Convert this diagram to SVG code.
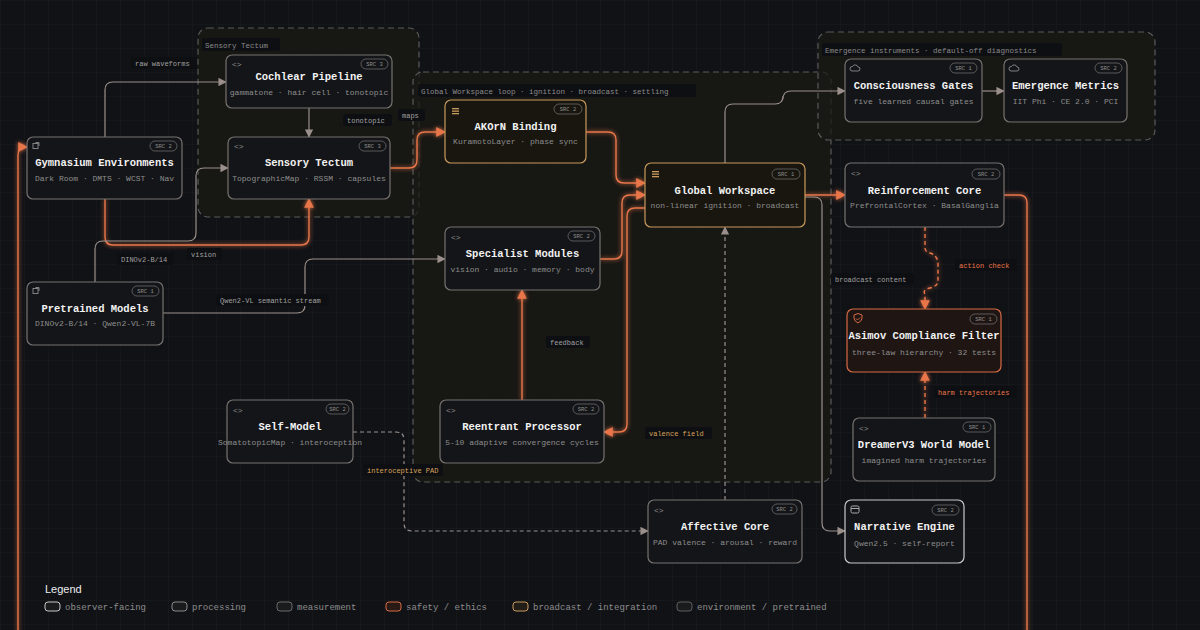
<svg xmlns="http://www.w3.org/2000/svg" width="1200" height="630" viewBox="0 0 1200 630">
<defs>
<pattern id="grid" width="24" height="24" patternUnits="userSpaceOnUse"><path d="M24 0H0V24" fill="none" stroke="#1a1b20" stroke-width="1"/></pattern>
<marker id="ag" viewBox="0 0 10 10" refX="9" refY="5" markerWidth="7" markerHeight="7" orient="auto-start-reverse"><path d="M0 0L10 5L0 10z" fill="#9a8f8a"/></marker>
<marker id="ao" viewBox="0 0 10 10" refX="9" refY="5" markerWidth="7" markerHeight="7" orient="auto-start-reverse"><path d="M0 0L10 5L0 10z" fill="#e8764a"/></marker>
<filter id="glow" filterUnits="userSpaceOnUse" x="0" y="0" width="1200" height="630"><feGaussianBlur stdDeviation="2" result="b"/><feMerge><feMergeNode in="b"/><feMergeNode in="SourceGraphic"/></feMerge></filter>
</defs>
<style>
text{font-family:"Liberation Mono","DejaVu Sans Mono",monospace}
.n{fill:#141518;stroke:#77726f;stroke-width:1.2}
.gold{stroke:#c99a5c;fill:#18160f}
.red{fill:#1f1614;stroke:#d86a45}
.wht{stroke:#c8c8c8}
.t{fill:#f2f2f2;font-size:10.5px;font-weight:bold;text-anchor:middle}
.s{fill:#8d8d8d;font-size:8px;text-anchor:middle}
.b{fill:none;stroke:#6b6b6b;stroke-width:0.8}
.bt{fill:#8d8d8d;font-size:5.5px;text-anchor:middle}
.ic{fill:#8d8d8d;font-size:8px}
.g{fill:#1a1914;fill-opacity:0.75;stroke:#5a5a5a;stroke-dasharray:6 4;stroke-width:1.2}
.gl{fill:#8a8a8a;font-size:7.5px}
.lb{fill:#0e0f12}
.lt{fill:#a0a0a0;font-size:7px}
.cg{fill:none;stroke:#9a8f8a;stroke-width:1.2}
.co{fill:none;stroke:#e8764a;stroke-width:1.4}
.dash{stroke-dasharray:4 3}
.lg{fill:#8d8d8d;font-size:9px}
.icl{fill:none;stroke:#8d8d8d;stroke-width:0.9}
</style>
<rect width="1200" height="630" fill="#111216"/>
<rect width="1200" height="630" fill="url(#grid)"/>

<g id="groups">
<rect class="g" x="198" y="28" width="221" height="189" rx="10"/>
<rect class="lb" x="202" y="38" width="78" height="13" rx="2"/><text class="gl" x="205" y="47.5">Sensory Tectum</text>
<rect class="g" x="413" y="72" width="418" height="410" rx="10"/>
<rect class="lb" x="418" y="84" width="278" height="13" rx="2"/><text class="gl" x="421" y="93.5">Global Workspace loop · ignition · broadcast · settling</text>
<rect class="g" x="818" y="32" width="337" height="108" rx="10"/>
<rect class="lb" x="822" y="43" width="240" height="13" rx="2"/><text class="gl" x="825" y="53">Emergence instruments · default-off diagnostics</text>
</g>

<g id="connectors">
<path class="cg" d="M105 137V90q0-8 8-8H226" marker-end="url(#ag)"/>
<path class="cg" d="M309 108V137" marker-end="url(#ag)"/>
<path class="co" filter="url(#glow)" d="M105 199V237q0 8 8 8H301q8 0 8-8V199" marker-end="url(#ao)"/>
<path class="cg" d="M95 282V249q0-8 8-8H188q8 0 8-8V176q0-8 8-8H228" marker-end="url(#ag)"/>
<path class="cg" d="M163 313H297q8 0 8-8V267q0-8 8-8H445" marker-end="url(#ag)"/>
<path class="co" filter="url(#glow)" d="M390 168H409q8 0 8-8V140q0-8 8-8H445" marker-end="url(#ao)"/>
<path class="co" filter="url(#glow)" d="M586 132H608q8 0 8 8V175q0 8 8 8H645" marker-end="url(#ao)"/>
<path class="co" filter="url(#glow)" d="M600 259H614q8 0 8-8V203q0-8 8-8H645" marker-end="url(#ao)"/>
<path class="co" filter="url(#glow)" d="M645 208H635q-8 0-8 8V424q0 8-8 8H604" marker-end="url(#ao)"/>
<path class="co" filter="url(#glow)" d="M522 400V290" marker-end="url(#ao)"/>
<path class="cg dash" d="M725 500V227" marker-end="url(#ag)"/>
<path class="cg dash" d="M353 432H396q8 0 8 8V523q0 8 8 8H648" marker-end="url(#ag)"/>
<path class="cg" d="M725 163V112q0-8 8-8H775q8 0 8-8V99q0-8 8-8H845" marker-end="url(#ag)"/>
<path class="cg" d="M982 91H1004" marker-end="url(#ag)"/>
<path class="co" filter="url(#glow)" d="M805 195H845" marker-end="url(#ao)"/>
<path class="cg" d="M805 197H814q8 0 8 8V523q0 8 8 8H845" marker-end="url(#ag)"/>
<path class="co dash" filter="url(#glow)" d="M925 227V248q0 4 5 5t8 8V281q0 5-8 7t-5 6V309" marker-end="url(#ao)"/>
<path class="co dash" filter="url(#glow)" d="M925 418V372" marker-end="url(#ao)"/>
<path class="co" filter="url(#glow)" d="M1004 195H1019q8 0 8 8V640"/>
<path class="co" filter="url(#glow)" d="M18 640V155q0-8 8-8H27" marker-end="url(#ao)"/>
</g>

<g id="labels">
<rect class="lb" x="131" y="57" width="66" height="12" rx="2"/><text class="lt" x="135" y="66">raw waveforms</text>
<rect class="lb" x="343" y="114" width="49" height="12" rx="2"/><text class="lt" x="347" y="123">tonotopic</text>
<rect class="lb" x="398" y="109" width="27" height="12" rx="2"/><text class="lt" x="402" y="118">maps</text>
<rect class="lb" x="187" y="248" width="35" height="12" rx="2"/><text class="lt" x="191" y="257">vision</text>
<rect class="lb" x="117" y="253" width="57" height="12" rx="2"/><text class="lt" x="121" y="262">DINOv2-B/14</text>
<rect class="lb" x="216" y="294" width="113" height="12" rx="2"/><text class="lt" x="220" y="303">Qwen2-VL semantic stream</text>
<rect class="lb" x="546" y="336" width="44" height="12" rx="2"/><text class="lt" x="550" y="345">feedback</text>
<rect class="lb" x="645" y="427" width="67" height="12" rx="2"/><text class="lt" x="649" y="436" style="fill:#d9a45c">valence field</text>
<rect class="lb" x="363" y="464" width="80" height="12" rx="2"/><text class="lt" x="367" y="473" style="fill:#d9a45c">interoceptive PAD</text>
<rect class="lb" x="831" y="273" width="83" height="12" rx="2"/><text class="lt" x="835" y="282">broadcast content</text>
<rect class="lb" x="955" y="259" width="62" height="12" rx="2"/><text class="lt" x="959" y="268" style="fill:#e8764a">action check</text>
<rect class="lb" x="934" y="386" width="83" height="12" rx="2"/><text class="lt" x="938" y="395" style="fill:#e8764a">harm trajectories</text>
</g>

<g id="n-cochlear"><rect class="n" x="226" y="55" width="166" height="53" rx="6"/><text class="ic" x="232" y="67">&lt;&gt;</text><rect class="b" x="361" y="59" width="27" height="10" rx="5"/><text class="bt" x="374.5" y="66">SRC 3</text><text class="t" x="309" y="80">Cochlear Pipeline</text><text class="s" x="309" y="95">gammatone · hair cell · tonotopic</text></g>
<g id="n-tectum"><rect class="n" x="228" y="137" width="162" height="62" rx="6"/><text class="ic" x="234" y="149">&lt;&gt;</text><rect class="b" x="359" y="141" width="27" height="10" rx="5"/><text class="bt" x="372.5" y="148">SRC 3</text><text class="t" x="309" y="166">Sensory Tectum</text><text class="s" x="309" y="181">TopographicMap · RSSM · capsules</text></g>
<g id="n-gym"><rect class="n" x="27" y="137" width="155" height="62" rx="6"/><rect class="icl" x="33" y="143.5" width="5" height="5"/><path class="icl" d="M35.5 142.5h3.5v3.5"/><rect class="b" x="150" y="141" width="27" height="10" rx="5"/><text class="bt" x="163.5" y="148">SRC 2</text><text class="t" x="104.5" y="166">Gymnasium Environments</text><text class="s" x="104.5" y="181">Dark Room · DMTS · WCST · Nav</text></g>
<g id="n-pre"><rect class="n" x="27" y="282" width="136" height="63" rx="6"/><rect class="icl" x="33" y="288.5" width="5" height="5"/><path class="icl" d="M35.5 287.5h3.5v3.5"/><rect class="b" x="132" y="286" width="27" height="10" rx="5"/><text class="bt" x="145.5" y="293">SRC 1</text><text class="t" x="95" y="312">Pretrained Models</text><text class="s" x="95" y="326">DINOv2-B/14 · Qwen2-VL-7B</text></g>
<g id="n-akorn"><rect class="n gold" x="445" y="100" width="141" height="63" rx="6"/><g fill="#c99a5c"><rect x="452" y="108" width="7" height="1.3"/><rect x="452" y="110.5" width="7" height="1.3"/><rect x="452" y="113" width="7" height="1.3"/></g><rect class="b" x="554" y="104" width="28" height="10" rx="5"/><text class="bt" x="568" y="111">SRC 2</text><text class="t" x="515.5" y="130">AKOrN Binding</text><text class="s" x="515.5" y="144">KuramotoLayer · phase sync</text></g>
<g id="n-gw"><rect class="n gold" x="645" y="163" width="160" height="64" rx="6"/><g fill="#c99a5c"><rect x="652" y="171" width="7" height="1.3"/><rect x="652" y="173.5" width="7" height="1.3"/><rect x="652" y="176" width="7" height="1.3"/></g><rect class="b" x="772" y="169" width="28" height="10" rx="5"/><text class="bt" x="786" y="176">SRC 1</text><text class="t" x="725" y="194">Global Workspace</text><text class="s" x="725" y="208">non-linear ignition · broadcast</text></g>
<g id="n-spec"><rect class="n" x="445" y="227" width="155" height="63" rx="6"/><text class="ic" x="451" y="240">&lt;&gt;</text><rect class="b" x="568" y="231" width="27" height="10" rx="5"/><text class="bt" x="581.5" y="238">SRC 2</text><text class="t" x="522.5" y="257">Specialist Modules</text><text class="s" x="522.5" y="272">vision · audio · memory · body</text></g>
<g id="n-reen"><rect class="n" x="440" y="400" width="164" height="63" rx="6"/><text class="ic" x="446" y="413">&lt;&gt;</text><rect class="b" x="573" y="404" width="26" height="10" rx="5"/><text class="bt" x="586" y="411">SRC 2</text><text class="t" x="522" y="430">Reentrant Processor</text><text class="s" x="522" y="445">5-10 adaptive convergence cycles</text></g>
<g id="n-self"><rect class="n" x="227" y="400" width="126" height="63" rx="6"/><text class="ic" x="233" y="413">&lt;&gt;</text><rect class="b" x="326" y="404" width="23" height="10" rx="5"/><text class="bt" x="337.5" y="411">SRC 2</text><text class="t" x="290" y="430">Self-Model</text><text class="s" x="290" y="445">SomatotopicMap · interoception</text></g>
<g id="n-aff"><rect class="n" x="648" y="500" width="154" height="63" rx="6"/><text class="ic" x="654" y="513">&lt;&gt;</text><rect class="b" x="772" y="504" width="25" height="10" rx="5"/><text class="bt" x="784.5" y="511">SRC 2</text><text class="t" x="725" y="530">Affective Core</text><text class="s" x="725" y="545">PAD valence · arousal · reward</text></g>
<g id="n-gates"><rect class="n" x="845" y="59" width="137" height="63" rx="6"/><path class="icl" d="M852 71h6a2 2 0 0 0 0-4a3 3 0 0 0-5.5-0.5a2 2 0 0 0-0.5 4.5z"/><rect class="b" x="950" y="63" width="27" height="10" rx="5"/><text class="bt" x="963.5" y="70">SRC 1</text><text class="t" x="913.5" y="89">Consciousness Gates</text><text class="s" x="913.5" y="104">five learned causal gates</text></g>
<g id="n-metrics"><rect class="n" x="1004" y="59" width="123" height="63" rx="6"/><path class="icl" d="M1011 71h6a2 2 0 0 0 0-4a3 3 0 0 0-5.5-0.5a2 2 0 0 0-0.5 4.5z"/><rect class="b" x="1095" y="63" width="27" height="10" rx="5"/><text class="bt" x="1108.5" y="70">SRC 2</text><text class="t" x="1065.5" y="89">Emergence Metrics</text><text class="s" x="1065.5" y="104">IIT Phi · CE 2.0 · PCI</text></g>
<g id="n-rl"><rect class="n" x="845" y="163" width="159" height="64" rx="6"/><text class="ic" x="851" y="176">&lt;&gt;</text><rect class="b" x="972" y="169" width="28" height="10" rx="5"/><text class="bt" x="986" y="176">SRC 2</text><text class="t" x="924.5" y="194">Reinforcement Core</text><text class="s" x="924.5" y="208">PrefrontalCortex · BasalGanglia</text></g>
<g id="n-asimov"><rect class="n red" x="847" y="309" width="154" height="63" rx="6"/><path d="M854 315l4-1.5l4 1.5v3q0 3-4 5q-4-2-4-5z" fill="none" stroke="#d86a45" stroke-width="1"/><path d="M856 318.5l1.5 1.5l2.5-2.5" fill="none" stroke="#d86a45" stroke-width="0.9"/><rect class="b" x="970" y="314" width="27" height="10" rx="5"/><text class="bt" x="983.5" y="321">SRC 1</text><text class="t" x="924" y="339">Asimov Compliance Filter</text><text class="s" x="924" y="355">three-law hierarchy · 32 tests</text></g>
<g id="n-dreamer"><rect class="n" x="853" y="418" width="142" height="63" rx="6"/><text class="ic" x="859" y="431">&lt;&gt;</text><rect class="b" x="963" y="422" width="28" height="10" rx="5"/><text class="bt" x="977" y="429">SRC 1</text><text class="t" x="924" y="448">DreamerV3 World Model</text><text class="s" x="924" y="463">imagined harm trajectories</text></g>
<g id="n-narr"><rect class="n wht" x="845" y="500" width="119" height="63" rx="6"/><rect x="851" y="506" width="8" height="7" rx="1.5" fill="none" stroke="#aaa" stroke-width="1"/><line x1="851" y1="508.5" x2="859" y2="508.5" stroke="#aaa"/><rect class="b" x="932" y="505" width="27" height="10" rx="5"/><text class="bt" x="945.5" y="512">SRC 2</text><text class="t" x="904.5" y="530">Narrative Engine</text><text class="s" x="904.5" y="546">Qwen2.5 · self-report</text></g>

<g id="legend">
<text x="45" y="593" style="fill:#eee;font-size:11px;font-family:'Liberation Sans',sans-serif">Legend</text>
<rect x="45" y="602" width="15" height="9" rx="3" fill="#1a1b1d" stroke="#c8c8c8"/><text class="lg" x="65" y="610">observer-facing</text>
<rect x="172" y="602" width="15" height="9" rx="3" fill="#1a1b1d" stroke="#8a8a8a"/><text class="lg" x="192" y="610">processing</text>
<rect x="277" y="602" width="15" height="9" rx="3" fill="#1a1b1d" stroke="#6a6a6a"/><text class="lg" x="297" y="610">measurement</text>
<rect x="386" y="602" width="15" height="9" rx="3" fill="#2a1a16" stroke="#d86a45"/><text class="lg" x="406" y="610">safety / ethics</text>
<rect x="513" y="602" width="15" height="9" rx="3" fill="#221d16" stroke="#c99a5c"/><text class="lg" x="533" y="610">broadcast / integration</text>
<rect x="677" y="602" width="15" height="9" rx="3" fill="#1a1b1d" stroke="#5e5e5e"/><text class="lg" x="697" y="610">environment / pretrained</text>
</g>
</svg>
